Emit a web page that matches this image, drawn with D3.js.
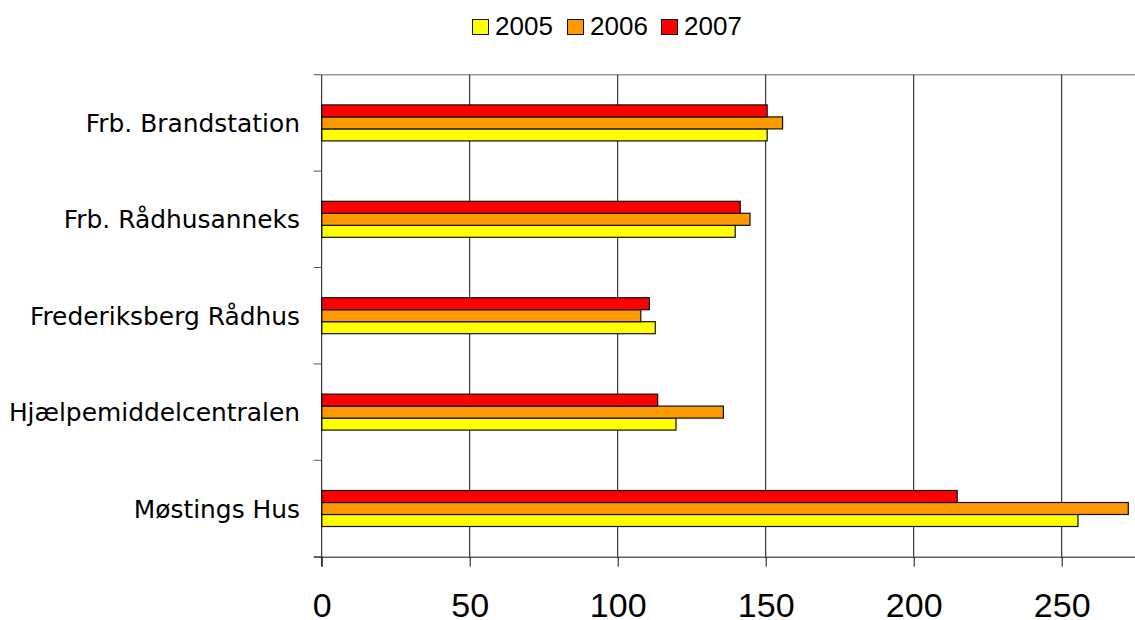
<!DOCTYPE html>
<html>
<head>
<meta charset="utf-8">
<script src="https://cdn.jsdelivr.net/npm/d3@7"></script>
<style>
html,body{margin:0;padding:0;background:#fff;overflow:hidden;}
svg{display:block;}
</style>
</head>
<body>
<svg id="chart" width="1135" height="620"></svg>
<script>
const categories = ["Frb. Brandstation", "Frb. Rådhusanneks", "Frederiksberg Rådhus", "Hjælpemiddelcentralen", "Møstings Hus"];
const seriesNames = ["2005", "2006", "2007"];
const values2005 = [150.5, 139.7, 112.7, 119.7, 255.5];
const values2006 = [155.7, 144.7, 107.8, 135.7, 272.5];
const values2007 = [150.5, 141.4, 110.7, 113.5, 214.7];
const xTicks = [0, 50, 100, 150, 200, 250];
const colors = ["#FFFF00", "#FF9900", "#FF0000"];

const seriesValues = [values2005, values2006, values2007];
const svg = d3.select("#chart");

const plotLeft = 321.7, plotTop = 74.7, plotBottom = 556.7;
const x = d3.scaleLinear().domain([0, 300]).range([plotLeft, plotLeft + 888]);
const y = d3.scaleBand().domain(categories).range([plotTop, plotBottom]);
// bars drawn top-to-bottom as 2007, 2006, 2005
const order = ["2007", "2006", "2005"];
const barH = 12;
const sub = d3.scaleBand().domain(order).range([-1.5 * barH, 1.5 * barH]);

// plot top border
svg.append("line").attr("x1", plotLeft).attr("x2", 1135).attr("y1", plotTop).attr("y2", plotTop)
  .attr("stroke", "#9a9a9a").attr("stroke-width", 1.6);

// gridlines
svg.append("g").selectAll("line").data(xTicks.filter(d => d > 0)).join("line")
  .attr("x1", d => x(d)).attr("x2", d => x(d)).attr("y1", plotTop).attr("y2", plotBottom)
  .attr("stroke", "#111").attr("stroke-width", 1);

// bars
const groups = svg.append("g").selectAll("g").data(categories).join("g")
  .attr("transform", d => `translate(0,${y(d) + y.bandwidth() / 2})`);
groups.selectAll("rect").data((c, i) => seriesNames.map((s, k) => ({s, v: seriesValues[k][i], k})))
  .join("rect")
  .attr("x", x(0))
  .attr("y", d => sub(d.s))
  .attr("width", d => x(d.v) - x(0))
  .attr("height", sub.bandwidth())
  .attr("fill", d => colors[d.k])
  .attr("stroke", "#111").attr("stroke-width", 1.2);

// x axis
const xAxis = d3.axisBottom(x).tickValues(xTicks).tickSize(10).tickSizeOuter(0).tickPadding(20);
const gx = svg.append("g").attr("transform", `translate(0,${plotBottom})`).call(xAxis);
gx.select(".domain").attr("stroke", "#111").attr("d", `M${plotLeft - 8},0.5H1135`);
gx.selectAll(".tick line").attr("stroke", "#111");
gx.selectAll("text").attr("font-family", "'Liberation Sans', Arial, sans-serif")
  .attr("font-size", 34).attr("fill", "#000").attr("dy", null).attr("y", 60);

// y axis (ticks at category boundaries)
const bounds = d3.range(categories.length + 1).map(i => plotTop + i * y.step());
svg.append("line").attr("x1", plotLeft).attr("x2", plotLeft).attr("y1", plotTop).attr("y2", plotBottom + 10)
  .attr("stroke", "#111");
svg.append("g").selectAll("line").data(bounds).join("line")
  .attr("x1", plotLeft - 8).attr("x2", plotLeft).attr("y1", d => d).attr("y2", d => d)
  .attr("stroke", "#555");

// category labels
svg.append("g").selectAll("text").data(categories).join("text")
  .attr("x", 300).attr("y", d => y(d) + y.bandwidth() / 2 + 9)
  .attr("text-anchor", "end")
  .attr("font-family", "'DejaVu Sans', sans-serif").attr("font-size", 24.9)
  .attr("fill", "#000")
  .text(d => d);

// legend
const legX = [472, 567, 661];
const leg = svg.append("g").selectAll("g").data(seriesNames).join("g")
  .attr("transform", (d, i) => `translate(${legX[i]},0)`);
leg.append("rect").attr("x", 0.5).attr("y", 19.5).attr("width", 16).attr("height", 15)
  .attr("fill", (d, i) => colors[i]).attr("stroke", "#111").attr("stroke-width", 1);
leg.append("text").attr("x", 23).attr("y", 35)
  .attr("font-family", "'Liberation Sans', Arial, sans-serif").attr("font-size", 26)
  .attr("fill", "#000").text(d => d);
</script>
</body>
</html>
